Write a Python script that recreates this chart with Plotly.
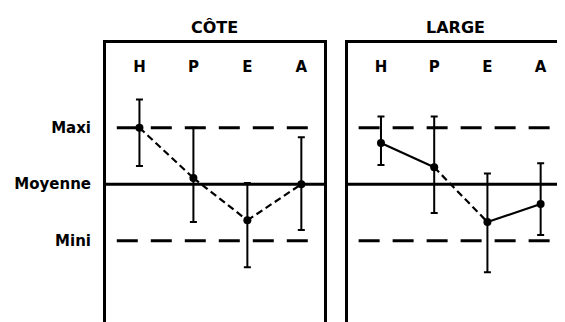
import plotly.graph_objects as go

categories = ["H", "P", "E", "A"]
level_vals = [1, 0, -1]
level_labels = ["Maxi", "Moyenne", "Mini"]
panel_titles = ["CÔTE", "LARGE"]

cote_mean = [1.00, 0.11, -0.64, 0.00]
cote_high = [1.50, 1.00, 0.02, 0.83]
cote_low = [0.32, -0.67, -1.47, -0.81]
cote_links = ["dash", "dash", "dash"]

large_mean = [0.73, 0.30, -0.67, -0.35]
large_high = [1.20, 1.20, 0.19, 0.37]
large_low = [0.34, -0.51, -1.56, -0.90]
large_links = ["solid", "dash", "solid"]

panels = [
    (cote_mean, cote_high, cote_low, cote_links),
    (large_mean, large_high, large_low, large_links),
]

fig = go.Figure()
FONT = "DejaVu Sans"

for i, (mean, high, low, links) in enumerate(panels):
    xa = "x" if i == 0 else "x2"
    ya = "y" if i == 0 else "y2"
    # connecting segments
    for k, style in enumerate(links):
        fig.add_trace(go.Scatter(
            x=[categories[k], categories[k + 1]], y=[mean[k], mean[k + 1]],
            mode="lines", xaxis=xa, yaxis=ya, showlegend=False,
            line=dict(color="black", width=2.2,
                      dash="solid" if style == "solid" else "7px,4px"),
            hoverinfo="skip"))
    # points with error bars
    fig.add_trace(go.Scatter(
        x=categories, y=mean, mode="markers", xaxis=xa, yaxis=ya,
        showlegend=False,
        marker=dict(color="black", size=8),
        error_y=dict(type="data", symmetric=False,
                     array=[h - m for h, m in zip(high, mean)],
                     arrayminus=[m - l for m, l in zip(mean, low)],
                     color="black", thickness=2, width=3.5)))
    # reference lines
    for v in level_vals:
        if v == 0:
            fig.add_shape(type="line", xref=f"{xa} domain", yref=ya,
                          x0=0, x1=1, y0=v, y1=v, layer="below",
                          line=dict(color="black", width=3))
        else:
            fig.add_shape(type="line", xref=xa, yref=ya,
                          x0=-0.42, x1=3.22, y0=v, y1=v, layer="below",
                          line=dict(color="black", width=3, dash="21px,13px"))
    fig.add_annotation(text=panel_titles[i], xref=f"{xa} domain", yref=f"{ya} domain",
                       x=0.5, y=1.057, showarrow=False, yanchor="middle",
                       font=dict(family=FONT, size=16, color="black", weight="bold"))

xcommon = dict(
    type="category", range=[-0.62, 3.42], side="top",
    showline=True, linecolor="black", linewidth=3, mirror=False,
    showgrid=False, zeroline=False, ticks="", ticklabelposition="inside",
    ticklabelstandoff=18,
    tickfont=dict(family=FONT, size=15, color="black", weight="bold"),
)
ycommon = dict(
    range=[-2.44, 2.50], showline=True, linecolor="black", linewidth=3,
    mirror=True, showgrid=False, zeroline=False, ticks="",
    tickvals=level_vals,
)

# the page body adds an 8px margin, so the figure is 8px smaller on each side
fig.update_layout(
    width=557, height=314,
    margin=dict(l=98, r=2, t=35, b=0),
    paper_bgcolor="white", plot_bgcolor="white",
    xaxis=dict(domain=[0, 0.477], anchor="y", **xcommon),
    xaxis2=dict(domain=[0.5295, 1.0], anchor="y2", **xcommon),
    yaxis=dict(anchor="x", ticktext=level_labels, ticklabelstandoff=9,
               tickfont=dict(family=FONT, size=15, color="black", weight="bold"),
               **ycommon),
    yaxis2=dict(anchor="x2", showticklabels=False, **ycommon),
)

fig.write_html("out.html")
